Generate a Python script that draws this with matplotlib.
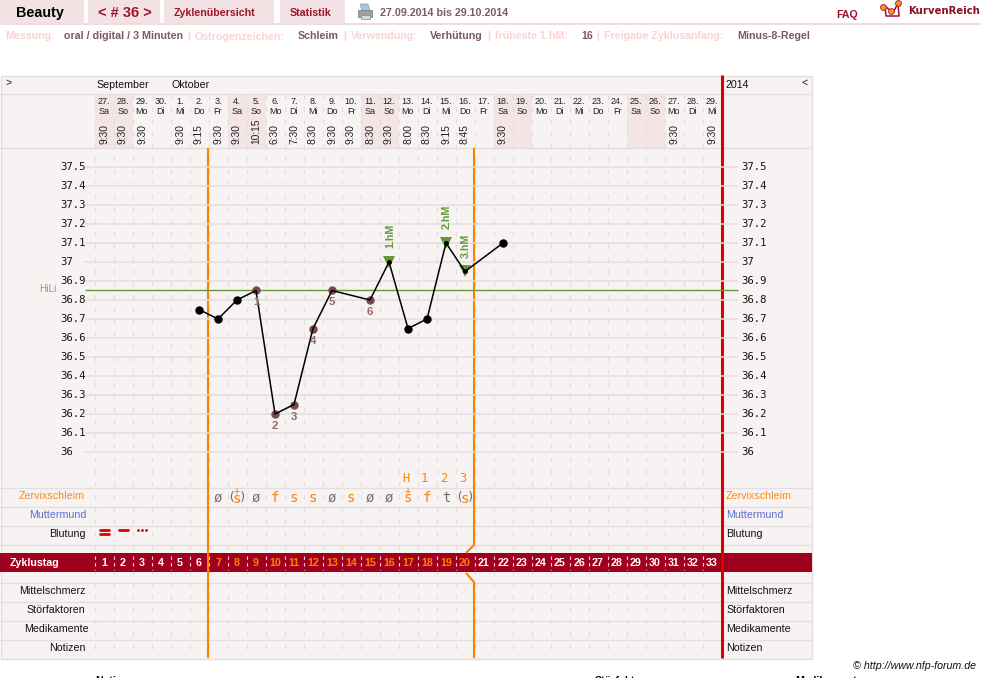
#!/usr/bin/env python3
"""Render a cycle chart (Zyklusblatt) with temperature curve and symptom rows."""

import matplotlib

matplotlib.use("Agg")
import matplotlib.pyplot as plt
from matplotlib.patches import Polygon, Rectangle
from matplotlib.transforms import blended_transform_factory

W, H = 981, 678

dates = ["27.", "28.", "29.", "30."] + [f"{d}." for d in range(1, 30)]
weekdays = ["Sa", "So", "Mo", "Di", "Mi", "Do", "Fr", "Sa", "So", "Mo", "Di", "Mi", "Do", "Fr", "Sa", "So", "Mo",
            "Di", "Mi", "Do", "Fr", "Sa", "So", "Mo", "Di", "Mi", "Do", "Fr", "Sa", "So", "Mo", "Di", "Mi"]
times = ["9:30", "9:30", "9:30", "", "9:30", "9:15", "9:30", "9:30", "10:15", "6:30", "7:30", "8:30", "9:30",
         "9:30", "8:30", "9:30", "8:00", "8:30", "9:15", "8:45", "", "9:30", "", "", "", "", "", "", "", "", "9:30",
         "", "9:30"]

cycle_days = [6, 7, 8, 9, 10, 11, 12, 13, 15, 16, 17, 18, 19, 20, 22]
temps = [36.75, 36.7, 36.8, 36.85, 36.2, 36.25, 36.65, 36.85, 36.8, 37.0, 36.65, 36.7, 37.1, 36.95, 37.1]
low_days = [9, 10, 11, 12, 13, 15]
high_days = [16, 19, 20]
temp_ticks = [37.5, 37.4, 37.3, 37.2, 37.1, 37.0, 36.9, 36.8, 36.7, 36.6, 36.5, 36.4, 36.3, 36.2, 36.1, 36.0]
coverline = 36.85

mucus_days = [7, 8, 9, 10, 11, 12, 13, 14, 15, 16, 17, 18, 19, 20]
mucus_codes = ["ø", "(s)", "ø", "f", "s", "s", "ø", "s", "ø", "ø", "s", "f", "t", "(s)"]
mucus_plus = [8, 17]
peak_days = [17, 18, 19, 20]
peak_labels = ["H", "1", "2", "3"]

rows_left = ["Zervixschleim", "Muttermund", "Blutung", "Mittelschmerz", "Störfaktoren", "Medikamente", "Notizen"]
rows_right_edge = [85, 86, 86, 86, 85, 89, 86]
rows_y = [496, 515, 534, 591, 610, 629, 648]
rows_color = ["#ff8a14", "#5a6fd0", "#111111", "#111111", "#111111", "#111111", "#111111"]

info_items = [
    (5, "Messung:", 0), (64, "oral / digital / 3 Minuten", 1), (187, "|", 0), (195, "Östrogenzeichen:", 0),
    (298, "Schleim", 1), (343, "|", 0), (351, "Verwendung:", 0), (430, "Verhütung", 1), (487, "|", 0),
    (495, "früheste 1.hM:", 0), (581, "16", 1), (596, "|", 0), (604, "Freigabe Zyklusanfang:", 0),
    (737, "Minus-8-Regel", 1),
]
tabs = [(0, 84), (88, 160), (164, 274), (280, 345)]

X0, COL = 94.5, 19.0
PANEL = "#f8f3f3"
WEEKEND = "#f3e4e6"
GRID = "#e2dfde"
BAND = "#a0001e"
ORANGE = "#ff8000"
RED = "#dd0000"
GREEN = "#669933"
DARK_RED = "#a0142c"
MUTED = "#86686c"
SANS = ["Liberation Sans", "DejaVu Sans"]
MONO = ["DejaVu Sans Mono"]
TEXT = 10.67

plt.rcParams["font.family"] = SANS


def px(size):
    return size * 0.72


def col_x(day):
    return X0 + COL * (day - 0.5)


fig = plt.figure(figsize=(W / 100, H / 100), dpi=100)
bg = fig.add_axes([0, 0, 1, 1])
bg.set_xlim(0, W)
bg.set_ylim(H, 0)
bg.axis("off")


def label(x, y, s, size=TEXT, color="#111111", ha="left", va="center", weight="normal", **kw):
    bg.text(x, y, s, fontsize=px(size), color=color, ha=ha, va=va, fontweight=weight, **kw)


# header
for x0, x1 in tabs:
    bg.add_patch(Rectangle((x0, 0), x1 - x0, 23, color="#f3e2e4", lw=0))
bg.add_patch(Rectangle((0, 23), W, 2, color="#f3dcdf", lw=0))
label(40, 13, "Beauty", 14.4, "#000000", ha="center", weight="bold")
label(124.5, 13, "< # 36 >", 14.6, DARK_RED, ha="center", weight="bold")
label(215, 12.5, "Zyklenübersicht", TEXT, DARK_RED, ha="center", weight="bold")
label(310.5, 12.5, "Statistik", TEXT, DARK_RED, ha="center", weight="bold")
label(380, 12.5, "27.09.2014 bis 29.10.2014", TEXT, "#7d5a60", weight="bold")
label(836, 14.5, "FAQ", TEXT, DARK_RED, weight="bold")
label(908, 11, "KurvenReich", 10.1, "#8c0f24", weight="bold", family=["DejaVu Sans"])

# printer icon
bg.add_patch(Polygon([[360, 4], [368, 4], [370, 11], [362, 11]], fc="#a8c4dc", ec="#8a9aa8", lw=0.5))
bg.add_patch(Rectangle((358, 10), 14, 7, fc="#9aa0a4", ec="#777b80", lw=0.5))
bg.add_patch(Rectangle((361, 15), 9, 4, fc="#d6d8da", ec="#888c90", lw=0.5))

# logo
bg.plot([885, 893, 898, 899, 886, 885], [6, 13, 3, 16, 16, 6], color="#a0142c", lw=1.1)
bg.plot([883, 891, 898], [7, 11, 3], "o", ms=4.2, mfc="#f59a1c", mec="#a0142c", mew=0.6, ls="none")

for x, s, kind in info_items:
    label(x, 36, s, TEXT, "#7d5a60" if kind else "#fbd2d2", weight="bold")

# panel
bg.add_patch(Rectangle((0.5, 75.5), 811, 583, fc=PANEL, ec=GRID, lw=1))
for d, wd in enumerate(weekdays, start=1):
    if wd in ("Sa", "So"):
        bg.add_patch(Rectangle((X0 + COL * (d - 1), 93.5), COL, 54.5, color=WEEKEND, lw=0))
for y in [93.5, 147.5, 487.5, 506.5, 525.5, 544.5, 582.5, 601.5, 620.5, 639.5]:
    bg.plot([0, 811], [y, y], color=GRID, lw=1, solid_capstyle="butt")
for d in range(0, 33):
    x = X0 + COL * d
    bg.plot([x, x], [94, 658], color=GRID, lw=0.9, dashes=(4, 6))

label(5, 83, ">", TEXT, "#222222")
label(96, 85, "September")
label(172, 85, "Oktober")
label(726, 85, "2014")
label(801, 83, "<", TEXT, "#222222")

for d, (date, wd, tm) in enumerate(zip(dates, weekdays, times), start=1):
    x = col_x(d)
    label(x, 101.5, date, 9, "#222222", ha="center")
    label(x, 111.5, wd, 9, "#222222", ha="center")
    if tm:
        label(x, 144, tm, 10.3, "#222222", ha="center", va="bottom", rotation=90, rotation_mode="default")

# temperature axes: x in cycle days, y in degrees
ax = fig.add_axes([X0 / W, 1 - 487 / H, COL * 33 / W, (487 - 148) / H])
ax.set_xlim(0.5, 33.5)
ax.set_ylim(36 - 35 / 190, 37.5 + 19 / 190)
ax.axis("off")
ax.patch.set_alpha(0)
ax.hlines(temp_ticks, -0.0, 34.37, color=GRID, lw=1.1, clip_on=False, zorder=1)
ax.hlines(coverline, -0.0, 34.37, color=GREEN, lw=1, clip_on=False, zorder=2)
side = blended_transform_factory(fig.transFigure, ax.transData)
for t in temp_ticks:
    s = f"{t:g}"
    ax.text(60 / W, t, s, transform=side, fontsize=px(10.6), family=MONO, color="#111111", ha="left", va="center")
    ax.text(741 / W, t, s, transform=side, fontsize=px(10.6), family=MONO, color="#111111", ha="left", va="center")
ax.text(48 / W, coverline + 0.01, "HiLi", transform=side, fontsize=px(10), color="#8aa070", ha="center", va="center")

ax.plot(cycle_days, temps, color="#000000", lw=1.1, zorder=4)
temp_by_day = dict(zip(cycle_days, temps))
plain = [d for d in cycle_days if d not in low_days and d not in high_days]
ax.plot(plain, [temp_by_day[d] for d in plain], "o", color="#000000", ms=px(7), zorder=5)
ax.plot(low_days, [temp_by_day[d] for d in low_days], "o", color="#7a4a50", ms=px(7), zorder=3.5)
ax.plot(high_days, [temp_by_day[d] for d in high_days], "v", color=GREEN, ms=px(11.5), mew=0, zorder=3.5)
ax.plot(high_days, [temp_by_day[d] for d in high_days], "o", color="#000000", ms=px(3.5), zorder=5)
for i, d in enumerate(low_days, start=1):
    ax.annotate(str(i), (d, temp_by_day[d]), xytext=(0, -px(12)), textcoords="offset points", ha="center",
                va="center", fontsize=px(TEXT + 0.8), fontweight="bold", color="#96656c", zorder=6)
for i, d in enumerate(high_days, start=1):
    ax.annotate(f"{i}.hM", (d, temp_by_day[d]), xytext=(px(1), px(26)), textcoords="offset points", ha="center",
                va="center", rotation=90, fontsize=px(TEXT), fontweight="bold", color=GREEN, zorder=6)

# symptom rows
for s, y, c, edge in zip(rows_left, rows_y, rows_color, rows_right_edge):
    label(edge, y, s, TEXT, c, ha="right")
    label(726, y, s, TEXT, c)

for d, code in zip(mucus_days, mucus_codes):
    x = col_x(d)
    if code == "(s)":
        label(x - 6, 497, "(", 13, MUTED, ha="center", family=MONO, zorder=6)
        label(x - 0.5, 499, "s", 14, ORANGE, ha="center", family=MONO)
        label(x + 6, 497, ")", 13, MUTED, ha="center", family=MONO, zorder=6)
    else:
        color = MUTED if code in ("ø", "t") else ORANGE
        label(x, 498, code, 14, color, ha="center", family=MONO)
for d in mucus_plus:
    label(col_x(d) - 0.5, 490.5, "+", 10, ORANGE, ha="center", family=MONO)
for d, s in zip(peak_days, peak_labels):
    label(col_x(d) - 2.5, 478, s, 12, ORANGE, ha="center", family=MONO)

# bleeding marks
for y in (530, 534):
    bg.plot([col_x(1) - 4.5, col_x(1) + 4.5], [y, y], color=RED, lw=2, solid_capstyle="round")
bg.plot([col_x(2) - 4.5, col_x(2) + 4.5], [530, 530], color=RED, lw=2, solid_capstyle="round")
bg.plot([col_x(3) - 4.2, col_x(3), col_x(3) + 4.2], [530, 530, 530], "o", color=RED, ms=2, mew=0)

# cycle-day band
bg.add_patch(Rectangle((0, 553), 811.5, 19, color=BAND, lw=0, zorder=3))
label(10, 563, "Zyklustag", TEXT, "#ffffff", weight="bold", zorder=4)
for d in range(1, 34):
    x = col_x(d)
    color = ORANGE if 7 <= d <= 20 else "#ffffff"
    label(x, 563.5, str(d), TEXT, color, ha="center", weight="bold", zorder=4)
    bg.plot([X0 + COL * (d - 1)] * 2, [556, 570], color="#f0d8d8", lw=0.8, dashes=(3, 3), zorder=4)

# phase markers
x_a = X0 + COL * 6 - 0.5
x_b = X0 + COL * 20 - 0.5
bg.plot([x_a, x_a], [148, 658], color=ORANGE, lw=1.5, zorder=5, solid_capstyle="butt")
bg.plot([x_b, x_b, x_b - 8], [148, 545, 553], color=ORANGE, lw=1.5, zorder=5, solid_capstyle="butt")
bg.plot([x_b - 8, x_b, x_b], [573, 582, 658], color=ORANGE, lw=1.5, zorder=5, solid_capstyle="butt")
bg.plot([721.5, 721.5], [75, 658], color=RED, lw=2.2, zorder=5, solid_capstyle="butt")

# footer
label(976, 666, "© http://www.nfp-forum.de", TEXT, "#111111", ha="right", style="italic")
label(95, 681, "Notizen", TEXT, "#000000", weight="bold")
label(595, 681, "Störfaktoren", TEXT, "#000000", weight="bold")
label(795, 681, "Medikamente", TEXT, "#000000", weight="bold")

fig.savefig("out.png", dpi=100)
